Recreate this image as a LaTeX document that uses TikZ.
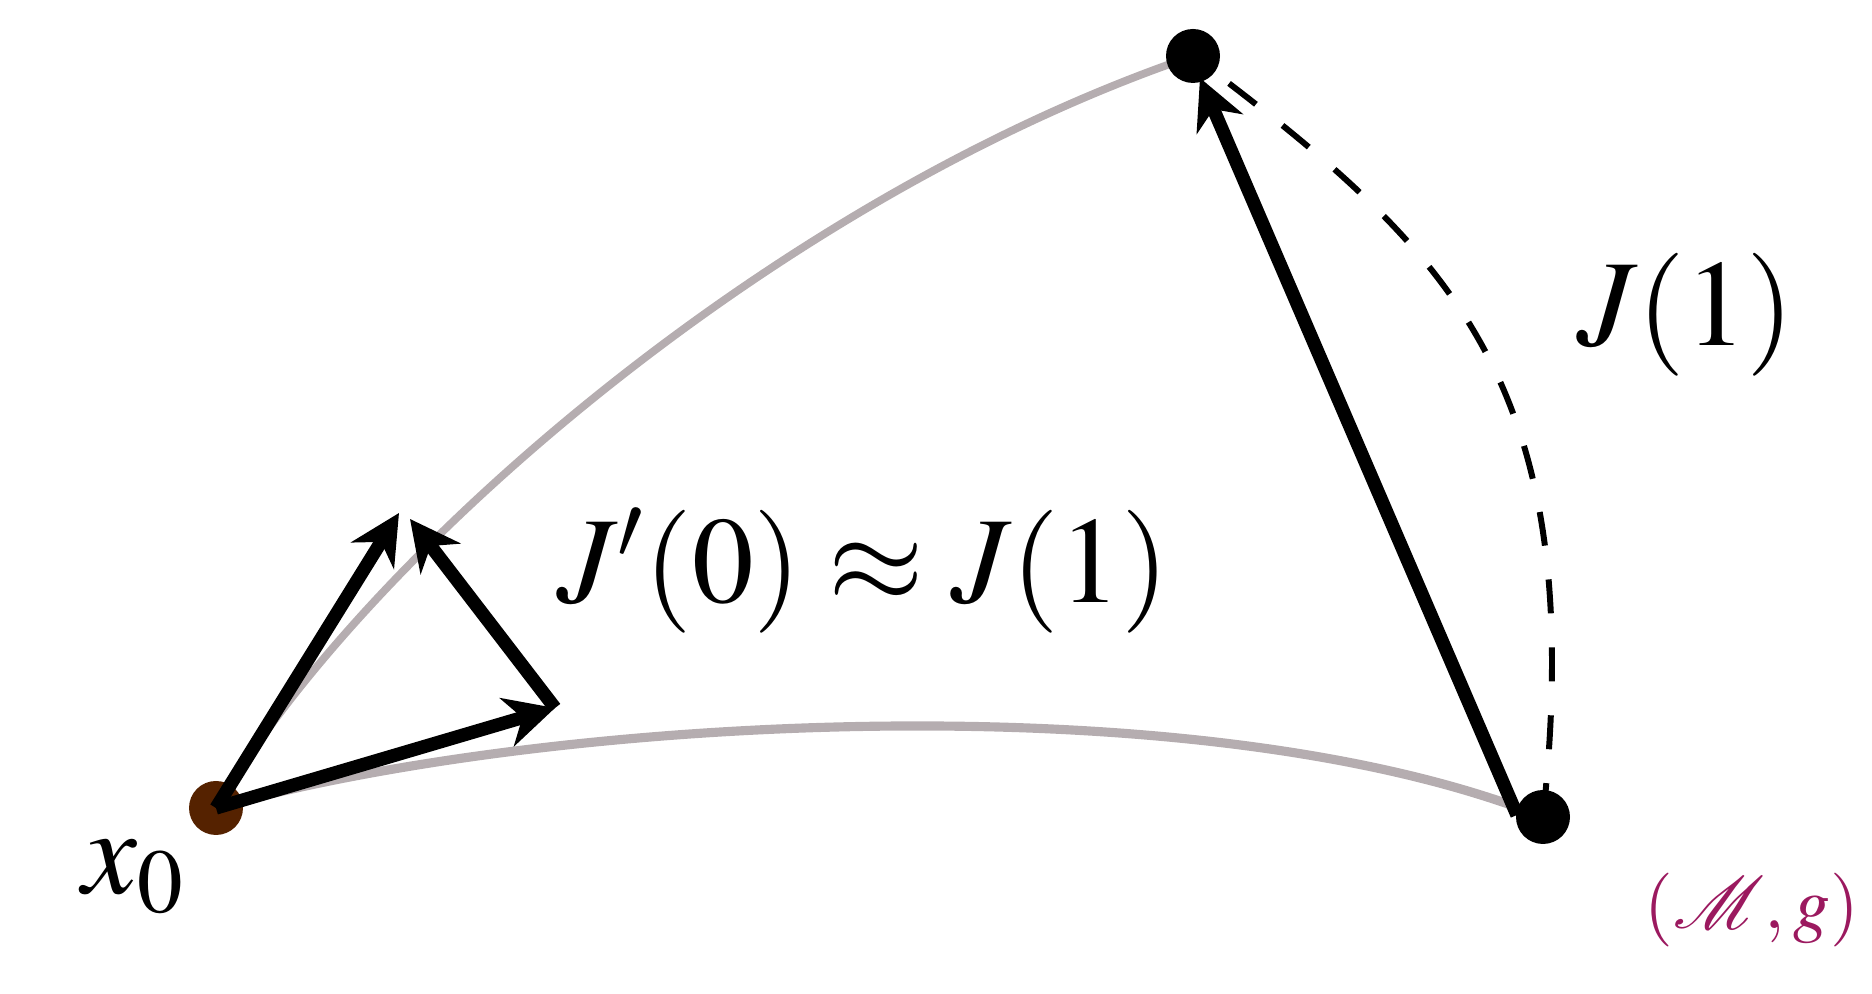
\documentclass[tikz,border=0pt]{standalone}
\usepackage{amsmath}
\usepackage{amssymb}
\usepackage{mathptmx}
\usetikzlibrary{arrows.meta}
\definecolor{geocol}{RGB}{181,173,176}
\definecolor{basecol}{RGB}{85,34,0}
\definecolor{mancol}{RGB}{155,25,95}

\begin{document}
\begin{tikzpicture}[every node/.style={font=\fontsize{35}{42}\selectfont},
  geod/.style={geocol, line width=2.2pt},
  vec/.style={line width=3.8pt, -{Stealth[length=5mm,width=5mm,inset=1.6mm]}},
  dot/.style={circle, fill, inner sep=0pt, minimum size=5.4mm}]
\useasboundingbox (0,0) rectangle (18.72,9.94);

% Points
\coordinate (x0) at (2.16,1.86);
\coordinate (top) at (11.93,9.38);
\coordinate (end) at (15.43,1.77);
\coordinate (vtip) at (5.55,2.86);
\coordinate (wtip) at (3.99,4.81);
\coordinate (jtip) at (4.10,4.75);
\coordinate (jbase) at (15.17,1.79);
\coordinate (jone) at (12.00,9.16);

% Geodesics
\draw[geod, line width=2.6pt] (x0) .. controls (5.50,2.79) and (12.00,3.14) .. (end);
\draw[geod] (x0) .. controls (3.60,4.34) and (7.70,7.94) .. (top);

% Transported J(1)
\draw[line width=1.7pt, dash pattern=on 3.4mm off 3.4mm] (end) .. controls (15.90,6.14) and (14.50,7.44) .. (top);

% Dots
\node[dot, basecol] (a) at (x0) {};
\node[dot] (b) at (top) {};
\node[dot] (c) at (end) {};

% Vectors at x0
\draw[vec] (x0) -- (wtip);
\draw[vec] (x0) -- (vtip);
\draw[vec] (vtip) -- (jtip);
\draw[vec] (jbase) -- (jone);

% Labels
\node[inner sep=0pt, anchor=base west] (lx) at (0.82,1.00) {$x_0$};
\node[inner sep=0pt] (lj) at (8.63,4.23) {$J'(0)\approx J(1)$};
\node[inner sep=0pt] (lj1) at (16.86,6.79) {$J(1)$};
\node[inner sep=0pt, mancol, font=\fontsize{21}{25}\selectfont] (lm) at (17.52,0.84) {$(\mathcal{M},g)$};
\end{tikzpicture}
\end{document}
